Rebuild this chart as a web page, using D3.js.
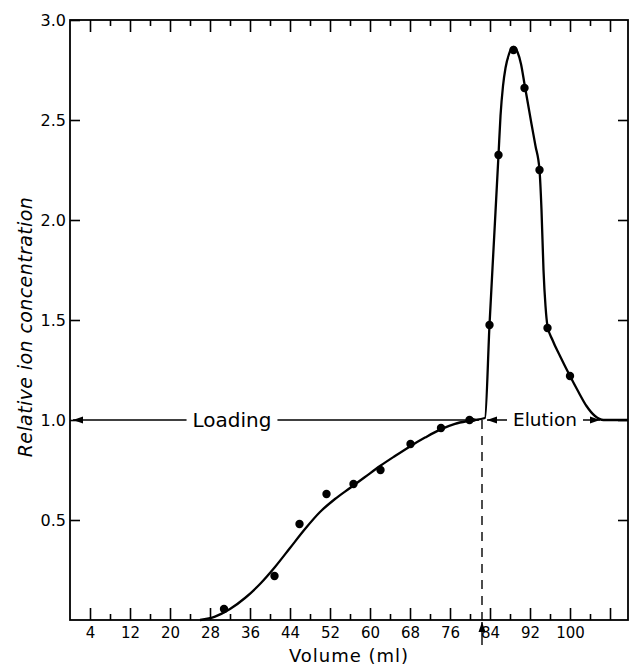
<!DOCTYPE html>
<html>
<head>
<meta charset="utf-8">
<script src="https://cdn.jsdelivr.net/npm/d3@7"></script>
<style>
  body { margin: 0; background: #fff; }
  svg { font-family: "DejaVu Sans", sans-serif; }
  .tick text { fill: #000; }
</style>
</head>
<body>
<div id="chart"></div>
<script>
// measured dots
var pointVolume = [30.8, 40.9, 45.9, 51.3, 56.7, 62.1, 68.1, 74.2, 79.9,
                   83.9, 85.7, 88.7, 90.9, 93.9, 95.5, 100.0];
var pointConc   = [0.055, 0.22, 0.48, 0.63, 0.68, 0.75, 0.88, 0.96, 1.0,
                   1.475, 2.325, 2.85, 2.66, 2.25, 1.46, 1.22];

// hand drawn curve
var curveVolume = [26, 29, 32, 35, 38, 41, 44, 47, 50, 53, 56, 59, 62, 65, 68, 71, 74, 77, 80, 83,
                   83.9, 84.8, 85.7, 86.1, 86.6, 87.1, 87.8, 88.7, 89.5, 90.2, 90.9, 91.6, 92.3, 93.1, 93.9,
                   94.3, 94.7, 95.1, 95.5, 96.5, 98, 100, 101.7, 103.3, 105, 106.7, 111.6];
var curveConc   = [0, 0.017, 0.055, 0.11, 0.18, 0.265, 0.36, 0.455, 0.54, 0.605, 0.66, 0.715, 0.77, 0.82, 0.868, 0.912, 0.952, 0.981, 0.997, 1.01,
                   1.475, 1.9, 2.325, 2.52, 2.67, 2.76, 2.83, 2.865, 2.84, 2.78, 2.68, 2.58, 2.48, 2.37, 2.25,
                   2.05, 1.75, 1.57, 1.47, 1.40, 1.32, 1.22, 1.14, 1.07, 1.02, 1.0, 1.0];

var xMajor = [4, 12, 20, 28, 36, 44, 52, 60, 68, 76, 84, 92, 100, 108];
var xMinor = [8, 16, 24, 32, 40, 48, 56, 64, 72, 80, 88, 96, 104];
var xTickLabels = ["4", "12", "20", "28", "36", "44", "52", "60", "68", "76", "84", "92", "100", ""];
var yTicks = [0.5, 1.0, 1.5, 2.0, 2.5, 3.0];
var yTickLabels = ["0.5", "1.0", "1.5", "2.0", "2.5", "3.0"];

var switchVolume = 82.4;
var loadingSpan = [0.6, 81.8], loadingTextAt = 32.4;
var elutionSpan = [83.4, 106], elutionTextAt = 95;

var W = 630, H = 666;
var x = d3.scaleLinear().domain([0, 111.6]).range([70, 628]);
var y = d3.scaleLinear().domain([0, 3]).range([620, 20]);

var svg = d3.select("#chart").append("svg").attr("width", W).attr("height", H);

var defs = svg.append("defs");
defs.append("marker").attr("id", "head")
    .attr("viewBox", "0 -4 10 8").attr("refX", 10).attr("refY", 0)
    .attr("markerUnits", "userSpaceOnUse")
    .attr("markerWidth", 10).attr("markerHeight", 8)
    .attr("orient", "auto")
  .append("path").attr("d", "M0,-3.5L10,0L0,3.5Z").attr("fill", "#000");

// axes, ticks pointing inward
function styleAxis(g) {
    g.select(".domain").remove();
    g.selectAll("line").attr("stroke", "#000").attr("stroke-width", 1.6);
}

var bottom = svg.append("g").attr("transform", "translate(0," + y(0) + ")")
    .call(d3.axisBottom(x).tickValues(xMajor).tickSize(-12).tickSizeOuter(0).tickPadding(7)
        .tickFormat(function(d, i) { return xTickLabels[i]; }))
    .call(styleAxis);
bottom.selectAll("text").attr("font-size", 15).attr("font-family", "DejaVu Sans");

svg.append("g").attr("transform", "translate(0," + y(0) + ")")
    .call(d3.axisBottom(x).tickValues(xMinor).tickSize(-6).tickSizeOuter(0).tickFormat(""))
    .call(styleAxis);

svg.append("g").attr("transform", "translate(0," + y(3) + ")")
    .call(d3.axisTop(x).tickValues(xMajor).tickSize(-12).tickSizeOuter(0).tickFormat(""))
    .call(styleAxis);
svg.append("g").attr("transform", "translate(0," + y(3) + ")")
    .call(d3.axisTop(x).tickValues(xMinor).tickSize(-6).tickSizeOuter(0).tickFormat(""))
    .call(styleAxis);

var left = svg.append("g").attr("transform", "translate(" + x(0) + ",0)")
    .call(d3.axisLeft(y).tickValues(yTicks).tickSize(-10).tickSizeOuter(0).tickPadding(4)
        .tickFormat(function(d, i) { return yTickLabels[i]; }))
    .call(styleAxis);
left.selectAll("text").attr("font-size", 16).attr("font-family", "DejaVu Sans");

svg.append("g").attr("transform", "translate(" + x(111.6) + ",0)")
    .call(d3.axisRight(y).tickValues(yTicks.slice(0, 5)).tickSize(-10).tickSizeOuter(0).tickFormat(""))
    .call(styleAxis);

// frame
svg.append("rect")
    .attr("x", x(0)).attr("y", y(3))
    .attr("width", x(111.6) - x(0)).attr("height", y(0) - y(3))
    .attr("fill", "none").attr("stroke", "#000").attr("stroke-width", 1.8);

// axis titles
svg.append("text")
    .attr("x", (x(0) + x(111.6)) / 2).attr("y", 662)
    .attr("text-anchor", "middle").attr("font-size", 18).attr("letter-spacing", 1)
    .text("Volume (ml)");

svg.append("text")
    .attr("transform", "translate(32," + 327 + ") rotate(-90)")
    .attr("text-anchor", "middle").attr("font-size", 19).attr("font-style", "italic")
    .attr("letter-spacing", 0.4)
    .text("Relative ion concentration");

// dashed switch line + arrow under the axis
svg.append("line")
    .attr("x1", x(switchVolume)).attr("x2", x(switchVolume))
    .attr("y1", y(1.0)).attr("y2", y(0))
    .attr("stroke", "#000").attr("stroke-width", 1.4).attr("stroke-dasharray", "9,7");
svg.append("line")
    .attr("x1", x(switchVolume)).attr("x2", x(switchVolume))
    .attr("y1", y(0) + 25).attr("y2", y(0) + 2)
    .attr("stroke", "#000").attr("stroke-width", 1.4)
    .attr("marker-end", "url(#head)");

// curve
var line = d3.line()
    .x(function(d) { return x(d[0]); })
    .y(function(d) { return y(d[1]); })
    .curve(d3.curveMonotoneX);

svg.append("path")
    .datum(d3.zip(curveVolume, curveConc))
    .attr("d", line)
    .attr("fill", "none").attr("stroke", "#000").attr("stroke-width", 2.3);

svg.append("g").selectAll("circle")
    .data(d3.zip(pointVolume, pointConc))
    .enter().append("circle")
    .attr("cx", function(d) { return x(d[0]); })
    .attr("cy", function(d) { return y(d[1]); })
    .attr("r", 4.2).attr("fill", "#000");

// Loading / Elution labels with arrows
function spanLabel(label, at, span, size) {
    var t = svg.append("text")
        .attr("x", x(at)).attr("y", y(1.0)).attr("dy", "0.35em")
        .attr("text-anchor", "middle").attr("font-size", size)
        .text(label);
    var w = t.node().getComputedTextLength();
    var gap = 6;
    svg.append("line")
        .attr("x1", x(at) - w / 2 - gap).attr("x2", x(span[0]))
        .attr("y1", y(1.0)).attr("y2", y(1.0))
        .attr("stroke", "#000").attr("stroke-width", 1.5).attr("marker-end", "url(#head)");
    svg.append("line")
        .attr("x1", x(at) + w / 2 + gap).attr("x2", x(span[1]))
        .attr("y1", y(1.0)).attr("y2", y(1.0))
        .attr("stroke", "#000").attr("stroke-width", 1.5).attr("marker-end", "url(#head)");
}
spanLabel("Loading", loadingTextAt, loadingSpan, 20);
spanLabel("Elution", elutionTextAt, elutionSpan, 18.5);
</script>
</body>
</html>
